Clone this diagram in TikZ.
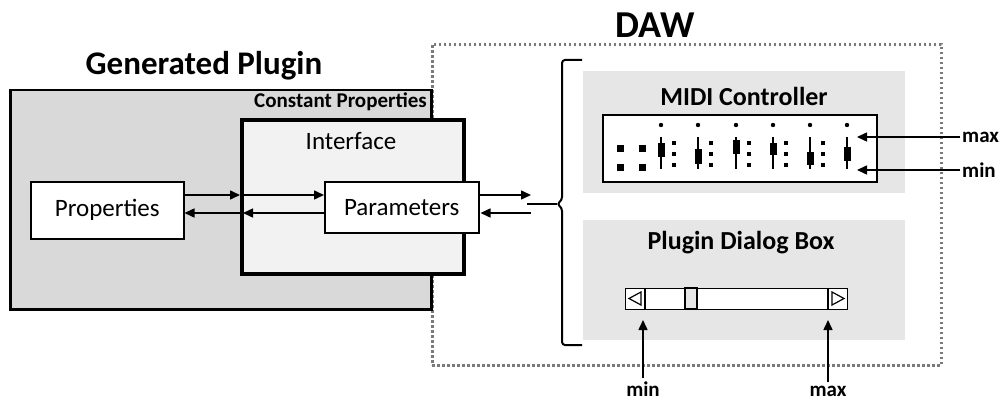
\documentclass[tikz,border=0pt]{standalone}
\usepackage{fontspec}
\setmainfont{Carlito}
\usetikzlibrary{arrows.meta}
\definecolor{plugfill}{HTML}{D9D9D9}
\definecolor{ifacefill}{HTML}{F2F2F2}
\definecolor{panelfill}{HTML}{E6E6E6}
\definecolor{dotgray}{HTML}{7A7A7A}
\tikzset{
  box/.style={draw=black, fill=white, line width=1.5pt, inner sep=0pt, anchor=north west},
  arr/.style={line width=1.5pt, -{Triangle[length=10pt,width=9pt]}},
  reg/.style={font=\fontsize{25}{30}\selectfont},
  bld/.style={font=\bfseries\fontsize{26}{30}\selectfont},
  small/.style={font=\bfseries\fontsize{21}{24}\selectfont, inner sep=0pt},
  panel/.style={fill=panelfill, draw=none, anchor=north west, inner sep=0pt},
}
\begin{document}
\begin{tikzpicture}[x=1pt,y=-1pt]
\useasboundingbox (0,0) rectangle (1002,404);
% DAW container
\node[draw=dotgray, line width=2.6pt, dash pattern=on 2.6pt off 2.4pt, anchor=north west, minimum width=509pt, minimum height=321pt, inner sep=0pt] (daw) at (431,43) {};
\node[font=\bfseries\fontsize{38}{44}\selectfont] (dawt) at (655,25) {DAW};
% Generated plugin
\node[draw=black, fill=plugfill, line width=2.5pt, anchor=north west, minimum width=421pt, minimum height=219pt, inner sep=0pt] (plugin) at (9,89) {};
\node[font=\bfseries\fontsize{33}{38}\selectfont] (plugt) at (204,66) {Generated Plugin};
\node[font=\bfseries\fontsize{21}{24}\selectfont, anchor=east, inner sep=0pt] (constp) at (427,102) {Constant Properties};
\node[draw=black, fill=ifacefill, line width=4pt, anchor=north west, minimum width=222pt, minimum height=154pt, inner sep=0pt] (iface) at (240,118) {};
\node[reg] (ifacet) at (351,141) {Interface};
\node[box, reg, minimum width=153pt, minimum height=57pt] (props) at (30,181) {Properties};
\node[box, reg, minimum width=154pt, minimum height=51pt] (params) at (324,181) {Parameters};
% arrows inside plugin
\draw[arr] (props.east |- 0,195) -- (iface.west |- 0,195);
\draw[arr] (iface.west |- 0,195) -- (params.west |- 0,195);
\draw[arr] (params.west |- 0,213) -- ([xshift=3pt]iface.west |- 0,213);
\draw[arr] (iface.west |- 0,213) -- (props.east |- 0,213);
% arrows to DAW
\coordinate (out1) at (531,195);
\coordinate (in1) at (531,213);
\draw[arr] (params.east |- out1) -- (out1);
\draw[arr] (in1) -- ([xshift=1pt]params.east |- in1);
% brace
\coordinate (brace) at (557,204);
\coordinate (feed) at (527,204);
\draw[line width=2pt, rounded corners=3pt] (582,60) -- (562,60) -- (562,200) -- (brace) -- (562,208) -- (562,345) -- (582,345);
\draw[line width=2pt] (feed) -- (brace);
% panels
\node[panel, minimum width=322pt, minimum height=122pt] (midip) at (583,71) {};
\node[panel, minimum width=322pt, minimum height=120pt] (dlgp) at (583,220) {};
\node[font=\bfseries\fontsize{26}{30}\selectfont] (midit) at (744,96) {MIDI Controller};
\node[font=\bfseries\fontsize{26}{30}\selectfont] (dlgt) at (741,243) {Plugin Dialog Box};
% MIDI controller box
\node[box, line width=2pt, minimum width=274pt, minimum height=67pt] (midi) at (602,114) {};
\foreach \sx/\sy in {620/148, 642/148, 620/167, 642/167} {
  \fill (\sx-3.5,\sy-3.5) rectangle (\sx+3.5,\sy+3.5);
}
\foreach \x/\a/\b in {661/143/157, 698/149/164, 736/140/154, 773/143/155, 810/152/165, 847/147/161} {
  \fill (\x,125) circle (2.2pt);
  \draw[line width=1.6pt] (\x,137) -- (\x,169);
  \fill (\x-3.5,\a) rectangle (\x+3.5,\b);
}
\foreach \x in {674,711,749,786,823} {
  \foreach \y in {143,154,165} {
    \fill (\x-2.2,\y-2.2) rectangle (\x+2.2,\y+2.2);
  }
}
\node[small, anchor=west] (maxr) at (962,137) {max};
\node[small, anchor=west] (minr) at (962,170) {min};
\coordinate (smax) at (857,137);
\coordinate (smin) at (857,170);
\draw[arr] ([xshift=-2pt]maxr.west) -- (smax);
\draw[arr] ([xshift=-2pt]minr.west) -- (smin);
% scrollbar
\node[draw=black, fill=white, line width=1.2pt, anchor=north west, minimum width=222pt, minimum height=21pt, inner sep=0pt] (scroll) at (625,288) {};
\draw[line width=1.2pt] (645,288) -- (645,309);
\draw[line width=1.2pt] (828,288) -- (828,309);
\draw[line width=1.2pt, fill=panelfill] (685,288) rectangle (697,309);
\draw[line width=1.2pt] (641,292) -- (629,298.5) -- (641,305) -- cycle;
\draw[line width=1.2pt] (832,292) -- (844,298.5) -- (832,305) -- cycle;
\node[small, anchor=base] (minb) at (643,396) {min};
\node[small, anchor=base] (maxb) at (828,396) {max};
\coordinate (bmin) at (643,320);
\coordinate (bmax) at (828,320);
\draw[arr] ([yshift=3pt]minb.north) -- (bmin);
\draw[arr] ([yshift=3pt]maxb.north) -- (bmax);
\end{tikzpicture}
\end{document}
